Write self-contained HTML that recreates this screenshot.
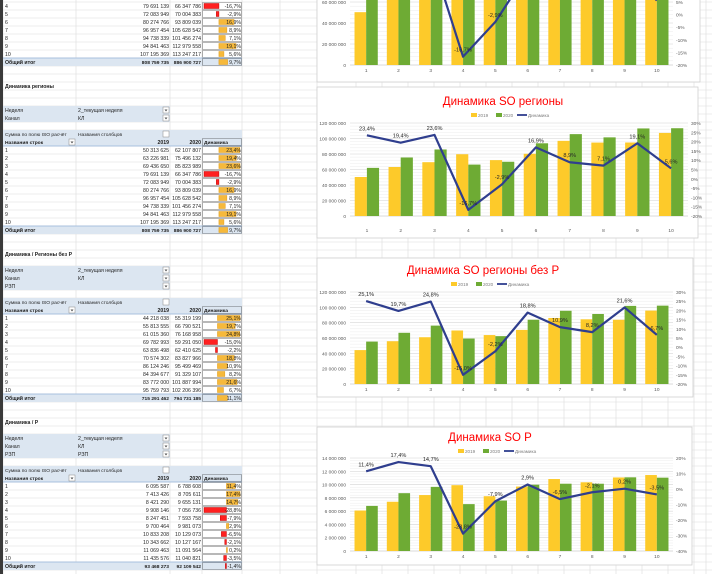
<!DOCTYPE html>
<html><head><meta charset="utf-8">
<style>
html,body{margin:0;padding:0;background:#fff;overflow:hidden}
svg{display:block;font-family:"Liberation Sans","Noto Sans CJK SC",sans-serif}
</style></head>
<body>
<svg id="s" width="712" height="574" viewBox="0 0 712 574"></svg>
<script>
// ---------- DATA ----------
const categories = ["1","2","3","4","5","6","7","8","9","10"];
const reg2019 = [50313625,63226981,69436650,79691139,72083949,80274766,96957454,94738339,94841463,107195369];
const reg2020 = [62107807,75496132,85823989,66347786,70004383,93809039,105628542,101456274,112979558,113247217];
const regDyn  = [23.4,19.4,23.6,-16.7,-2.9,16.9,8.9,7.1,19.1,5.6];
const regTotal = ["808 759 735","886 900 727",9.7];
const nop2019 = [44218038,55813555,61015360,69782993,63836498,70574302,86124246,84394677,83772000,95759793];
const nop2020 = [55319199,66790521,76168958,59291050,62410625,83827966,95499469,91329107,101887994,102206396];
const nopDyn  = [25.1,19.7,24.8,-15.0,-2.2,18.8,10.9,8.2,21.6,6.7];
const nopTotal = ["715 291 462","794 731 185",11.1];
const p2019 = [6095587,7413426,8421290,9908146,8247451,9700464,10833208,10343662,11069463,11435576];
const p2020 = [6788608,8705611,9655131,7056736,7593758,9981073,10129073,10127167,11091564,11040821];
const pDyn  = [11.4,17.4,14.7,-28.8,-7.9,2.9,-6.5,-2.1,0.2,-3.5];
const pTotal = ["93 468 273","92 109 542",-1.4];
const ticksBig = [0,20000000,40000000,60000000,80000000,100000000,120000000];
const ticksPctBig = [-20,-15,-10,-5,0,5,10,15,20,25,30];
const ticksSmall = [0,2000000,4000000,6000000,8000000,10000000,12000000,14000000];
const ticksPctSmall = [-40,-30,-20,-10,0,10,20];

const NS="http://www.w3.org/2000/svg";
const S=document.getElementById('s');
function el(tag,attrs,parent,txt){const e=document.createElementNS(NS,tag);for(const k in attrs)e.setAttribute(k,attrs[k]);if(txt!==undefined)e.textContent=txt;(parent||S).appendChild(e);return e;}
function fmt(n){return String(n).replace(/\B(?=(\d{3})+(?!\d))/g,' ');}
function pct(v){return v.toFixed(1).replace('.',',')+'%';}

// ---------- SHEET GRID ----------
const grid=el('g',{},S);


for(let k=0;k<=72;k++){el('line',{x1:3,x2:712,y1:2+8*k,y2:2+8*k,stroke:'#dcdcdc','stroke-width':0.6},grid);}
[3,76,170,202,242,280,317,356,382,408,434,460,486,512,538,564,590,616,642,668,694,706].forEach(x=>el('line',{x1:x,x2:x,y1:0,y2:574,stroke:'#dcdcdc','stroke-width':0.6},grid));
const rh=el('rect',{x:0,y:0,width:3,height:574,fill:'#3a3a3a'},S);



function rowTop(k){return 2+8*k;}
function txt(x,k,s,opts,parent){opts=opts||{};return el('text',{x:x,y:rowTop(k)+6,'font-size':opts.fs||5.2,fill:opts.fill||'#1f1f1f','text-anchor':opts.anchor||'start','font-weight':opts.bold?'bold':'normal'},parent||S,s);}
function btn(x,k,parent,arrow){const g=el('g',{},parent);el('rect',{x:x,y:rowTop(k)+1,width:6,height:6,fill:'#fff',stroke:'#888','stroke-width':0.5},g);if(arrow)el('path',{d:`M${x+1.5} ${rowTop(k)+3.5}h3l-1.5 2z`,fill:'#555'},g);return g;}

function pivot(name,titleK,title,filters,sumK,rows2019,rows2020,dyn,total,firstRow,firstK){
  const g=el('g',{},S);
  
  
  if(title){const t=txt(5,titleK,title,{bold:true},g);}
  filters.forEach((f,i)=>{const k=sumK-filters.length-1+i;
    el('rect',{x:3,y:rowTop(k),width:167,height:8,fill:'#dce6f1'},g);
    txt(5,k,f[0],{},g);txt(78,k,f[1],{},g);
    const b=btn(163,k,g,true);
    
    });
  if(sumK!==null){
    el('rect',{x:3,y:rowTop(sumK),width:239,height:16,fill:'#dce6f1'},g);
    el('line',{x1:3,x2:242,y1:rowTop(sumK+2),y2:rowTop(sumK+2),stroke:'#95b3d7','stroke-width':0.8},g);
    txt(5,sumK,'Сумма по полю ISO расчёт',{fs:4.9},g);
    txt(78,sumK,'Названия столбцов',{fs:4.9},g);
    const cb=btn(163,sumK,g,false);
    txt(5,sumK+1,'Названия строк',{bold:true,fs:4.9},g);
    const rb=btn(69,sumK+1,g,true);
    txt(169,sumK+1,'2019',{bold:true,anchor:'end'},g);
    txt(201,sumK+1,'2020',{bold:true,anchor:'end'},g);
    txt(204,sumK+1,'Динамика',{bold:true,fs:4.9},g);
    el('rect',{x:202.5,y:rowTop(sumK+1)+0.5,width:39,height:7,fill:'none',stroke:'#000','stroke-width':0.6,'stroke-dasharray':'1,1'},g);
  }
  const allD=dyn.concat([total[2]]);
  const mn=Math.min(0,...allD),mx=Math.max(0,...allD);
  const sc=36/(mx-mn);const zero=204+(-mn)*sc;
  for(let i=firstRow;i<categories.length;i++){const k=firstK+i-firstRow;
    txt(5,k,categories[i],{},g);
    txt(169,k,fmt(rows2019[i]),{anchor:'end'},g);
    txt(201,k,fmt(rows2020[i]),{anchor:'end'},g);
    dbar(g,k,dyn[i],zero,sc);
  }
  const tk=firstK+categories.length-firstRow;
  el('rect',{x:3,y:rowTop(tk),width:239,height:8,fill:'#dce6f1'},g);
  el('line',{x1:3,x2:242,y1:rowTop(tk),y2:rowTop(tk),stroke:'#95b3d7','stroke-width':0.8},g);
  txt(5,tk,'Общий итог',{bold:true},g);
  txt(169,tk,total[0],{anchor:'end',bold:true,fs:4.9},g);
  txt(201,tk,total[1],{anchor:'end',bold:true,fs:4.9},g);
  dbar(g,tk,total[2],zero,sc);
}
function dbar(g,k,v,zero,sc){
  const y=rowTop(k);
  const w=Math.abs(v)*sc;
  const x=v>=0?zero:zero-w;
  const b=el('rect',{x:x,y:y+1.5,width:Math.max(w,1),height:5,fill:v>=0?'#f6b93b':'#ff2020',stroke:v>=0?'#e29b16':'#c00000','stroke-width':0.5},g);
  
  
  txt(241,k,pct(v),{anchor:'end'},g);
  el('rect',{x:202.5,y:y+0.5,width:39,height:7,fill:'none',stroke:'#000','stroke-width':0.6,'stroke-dasharray':'1,1'},g);
}

pivot('pivot-top',null,null,[],null,reg2019,reg2020,regDyn,regTotal,3,0);
pivot('pivot-regions',10,'Динамика регионы',[['Неделя','2_текущая неделя'],['Канал','КЛ']],16,reg2019,reg2020,regDyn,regTotal,0,18);
pivot('pivot-regions-no-p',31,'Динамика / Регионы без Р',[['Неделя','2_текущая неделя'],['Канал','КЛ'],['РЗП','']],37,nop2019,nop2020,nopDyn,nopTotal,0,39);
pivot('pivot-p',52,'Динамика / Р',[['Неделя','2_текущая неделя'],['Канал','КЛ'],['РЗП','РЗП']],58,p2019,p2020,pDyn,pTotal,0,60);

// ---------- CHARTS ----------
function chart(cfg){
  const g=el('g',{},S);
  
  
  el('rect',{x:cfg.bx,y:cfg.by,width:cfg.bw,height:cfg.bh,fill:'#fff',stroke:'#d0d0d0','stroke-width':0.8},g);
  const L=cfg.left,R=cfg.right,Y0=cfg.y0,YT=cfg.yTop;
  const vmax=cfg.ticks[cfg.ticks.length-1];
  const yv=v=>Y0-(v/vmax)*(Y0-YT);
  const pmin=cfg.pticks[0],pmax=cfg.pticks[cfg.pticks.length-1];
  const yp=p=>Y0-(p-pmin)/(pmax-pmin)*(Y0-YT);
  const gw=(R-L)/cfg.cats.length;
  const xc=i=>L+gw*(i+0.5);
  const step=(cfg.ticks[1]-cfg.ticks[0])/5;
  for(let v=0;v<=vmax+1;v+=step){el('line',{x1:L,x2:R,y1:yv(v),y2:yv(v),stroke:'#ececec','stroke-width':0.5},g);}
  cfg.ticks.forEach(v=>{
    el('line',{x1:L,x2:R,y1:yv(v),y2:yv(v),stroke:v===0?'#bfbfbf':'#d9d9d9','stroke-width':0.6},g);
    const t=el('text',{x:L-4,y:yv(v)+2,'font-size':4.8,fill:'#595959','text-anchor':'end'},g,fmt(v));
    
    
  });
  cfg.pticks.forEach(p=>{
    const t=el('text',{x:R+3,y:yp(p)+2,'font-size':4.8,fill:'#595959'},g,p+'%');
    
    
  });
  const bw=gw*0.36;
  cfg.cats.forEach((c,i)=>{
    const b1=el('rect',{x:xc(i)-bw,y:yv(cfg.s1[i]),width:bw,height:Y0-yv(cfg.s1[i]),fill:'#fdca2a'},g);
    
    
    const b2=el('rect',{x:xc(i),y:yv(cfg.s2[i]),width:bw,height:Y0-yv(cfg.s2[i]),fill:'#6eab34'},g);
    
    
    const t=el('text',{x:xc(i),y:cfg.catY,'font-size':4.8,fill:'#595959','text-anchor':'middle'},g,c);
    
    
  });
  const pts=cfg.dyn.map((p,i)=>xc(i)+','+yp(p)).join(' ');
  const line=el('polyline',{points:pts,fill:'none',stroke:'#2f3e8e','stroke-width':2.2,'stroke-linejoin':'round'},g);
  
  
  cfg.dyn.forEach((p,i)=>{
    const t=el('text',{x:xc(i),y:yp(p)-5,'font-size':5.6,fill:'#262626','text-anchor':'middle'},g,pct(p));
    
    
  });
  if(cfg.title){
    const t=el('text',{x:cfg.tx,y:cfg.ty,'font-size':11.5,fill:'#ff0000','text-anchor':'middle'},g,cfg.title);
    
    
    const lg=el('g',{},g);
    
    
    const lx=cfg.tx-32,ly=cfg.ty+12;
    el('rect',{x:lx,y:ly-4,width:6,height:4,fill:'#fdca2a'},lg);
    el('text',{x:lx+7,y:ly,'font-size':4.6,fill:'#7f7f7f'},lg,'2019');
    el('rect',{x:lx+25,y:ly-4,width:6,height:4,fill:'#6eab34'},lg);
    el('text',{x:lx+32,y:ly,'font-size':4.6,fill:'#7f7f7f'},lg,'2020');
    el('line',{x1:lx+46,x2:lx+56,y1:ly-2,y2:ly-2,stroke:'#2f3e8e','stroke-width':1.8},lg);
    el('text',{x:lx+57,y:ly,'font-size':4.6,fill:'#7f7f7f'},lg,'Динамика');
  }
}
chart({name:'chart-top',bx:317,by:-80,bw:383,bh:162,left:350,right:673,y0:65,yTop:-61,catY:72,ticks:ticksBig,pticks:ticksPctBig,cats:categories,s1:reg2019,s2:reg2020,dyn:regDyn});
chart({name:'chart-regions',bx:317,by:87,bw:381,bh:151,left:350,right:688,y0:216,yTop:123,catY:232,ticks:ticksBig,pticks:ticksPctBig,cats:categories,s1:reg2019,s2:reg2020,dyn:regDyn,title:'Динамика SO регионы',tx:503,ty:105});
chart({name:'chart-regions-no-p',bx:317,by:258,bw:376,bh:139,left:350,right:673,y0:384,yTop:292,catY:391,ticks:ticksBig,pticks:ticksPctBig,cats:categories,s1:nop2019,s2:nop2020,dyn:nopDyn,title:'Динамика SO регионы без Р',tx:483,ty:274});
chart({name:'chart-p',bx:317,by:427,bw:375,bh:138,left:350,right:673,y0:551,yTop:458,catY:558,ticks:ticksSmall,pticks:ticksPctSmall,cats:categories,s1:p2019,s2:p2020,dyn:pDyn,title:'Динамика SO Р',tx:490,ty:441});
</script>
</body></html>
